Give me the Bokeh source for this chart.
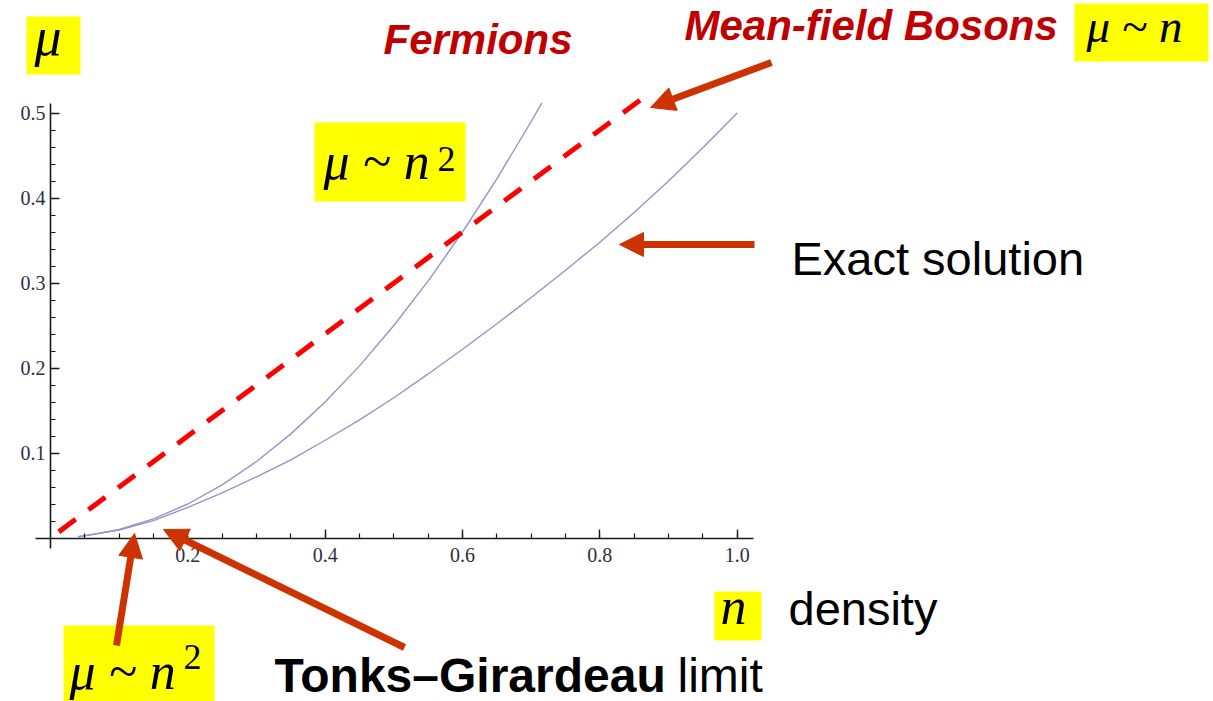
from bokeh.plotting import figure
from bokeh.models import (Range1d, LinearAxis, FixedTicker, PrintfTickFormatter,
                          Label, Arrow, NormalHead, BoxAnnotation)
from bokeh.embed import file_html
from bokeh.resources import INLINE

# ---------------- data ----------------
density_fermions = [0.04, 0.05, 0.10, 0.15, 0.20, 0.25, 0.30, 0.35, 0.40, 0.45,
                    0.50, 0.55, 0.60, 0.65, 0.70, 0.7155]
mu_fermions = [0.0016, 0.0025, 0.0100, 0.0225, 0.0400, 0.0625, 0.0900, 0.1225,
               0.1600, 0.2025, 0.2500, 0.3025, 0.3600, 0.4225, 0.4900, 0.5120]

density_exact = [0.04, 0.10, 0.15, 0.20, 0.25, 0.30, 0.35, 0.40, 0.45, 0.50,
                 0.55, 0.60, 0.65, 0.70, 0.75, 0.80, 0.85, 0.90, 0.95, 1.00]
mu_exact = [0.0015, 0.0093, 0.0205, 0.036, 0.053, 0.072, 0.092, 0.115, 0.139, 0.165,
            0.193, 0.222, 0.252, 0.283, 0.315, 0.348, 0.383, 0.420, 0.459, 0.500]

density_meanfield = [0.012, 0.868]
mu_meanfield = [0.0072, 0.5208]

x_major_ticks = [0.2, 0.4, 0.6, 0.8, 1.0]
x_minor_ticks = [0.05, 0.10, 0.15, 0.20, 0.25, 0.30, 0.35, 0.40, 0.45, 0.50,
                 0.55, 0.60, 0.65, 0.70, 0.75, 0.80, 0.85, 0.90, 0.95, 1.00]
y_major_ticks = [0.1, 0.2, 0.3, 0.4, 0.5]
y_minor_ticks = [0.02, 0.04, 0.06, 0.08, 0.10, 0.12, 0.14, 0.16, 0.18, 0.20,
                 0.22, 0.24, 0.26, 0.28, 0.30, 0.32, 0.34, 0.36, 0.38, 0.40,
                 0.42, 0.44, 0.46, 0.48, 0.50]

# ---------------- layout helpers (pixel -> data) ----------------
W, H = 1213, 701
OX, OY = 50.0, 537.5      # pixel position of the data origin
SX, SY = 686.7, 850.0     # pixels per data unit


def X(px):
    return (px - OX) / SX


def Y(py):
    return (OY - py) / SY


CURVE = "#9494c8"
ARROW = "#cc3300"
DARKRED = "#c00000"
YELLOW = "#ffff00"
SERIF = "Liberation Serif"
SANS = "Liberation Sans"

p = figure(width=W, height=H, x_range=Range1d(X(0), X(W)), y_range=Range1d(Y(H), Y(0)),
           x_axis_type=None, y_axis_type=None, toolbar_location=None,
           output_backend="svg", min_border=0)
p.outline_line_color = None
p.background_fill_color = "white"
p.border_fill_color = "white"

# ---------------- axes crossing at the origin ----------------
xaxis = LinearAxis(fixed_location=0, bounds=(-0.022, 1.024),
                   ticker=FixedTicker(ticks=x_major_ticks, minor_ticks=x_minor_ticks),
                   formatter=PrintfTickFormatter(format="%.1f"))
yaxis = LinearAxis(fixed_location=0, bounds=(-0.012, 0.511),
                   ticker=FixedTicker(ticks=y_major_ticks, minor_ticks=y_minor_ticks),
                   formatter=PrintfTickFormatter(format="%.1f"))
for ax in (xaxis, yaxis):
    ax.axis_line_color = "#1a1a1a"
    ax.axis_line_width = 1.6
    ax.major_tick_line_color = "#1a1a1a"
    ax.minor_tick_line_color = "#1a1a1a"
    ax.major_tick_line_width = 1.4
    ax.minor_tick_line_width = 1.2
    ax.major_tick_in = 9
    ax.major_tick_out = 0
    ax.minor_tick_in = 5
    ax.minor_tick_out = 0
    ax.major_label_text_font = SERIF
    ax.major_label_text_font_size = "20px"
    ax.major_label_text_color = "#2e2e40"
xaxis.major_label_standoff = 10
yaxis.major_label_standoff = 5
p.add_layout(xaxis, "below")
p.add_layout(yaxis, "left")

# ---------------- curves ----------------
p.line(density_fermions, mu_fermions, line_color=CURVE, line_width=1.4)
p.line(density_exact, mu_exact, line_color=CURVE, line_width=1.4)
p.line(density_meanfield, mu_meanfield, line_color="#ff0000", line_width=5,
       line_dash="21 16")

# ---------------- yellow boxes ----------------
boxes = [(26, 80, 16, 74),      # mu (top-left)
         (314, 465, 122, 201),  # mu ~ n^2 (middle)
         (1074, 1208, 3, 61),   # mu ~ n (top-right)
         (714, 761, 591, 640),  # n
         (63, 214, 625, 701)]   # mu ~ n^2 (bottom-left)
for l, r, t, b in boxes:
    p.add_layout(BoxAnnotation(left=X(l), right=X(r), top=Y(t), bottom=Y(b),
                               fill_color=YELLOW, fill_alpha=1.0, line_alpha=0,
                               level="underlay"))


def label(px, py, text, font, size, color="black", style="normal"):
    # py is the wanted baseline; the renderer draws ~0.36 em lower than asked
    p.add_layout(Label(x=X(px), y=Y(py - 0.36 * size), text=text, text_font=font,
                       text_font_size=f"{size}px", text_font_style=style,
                       text_color=color, text_baseline="alphabetic", text_align="left"))


# math labels
label(34, 56, "μ", SERIF, 54, style="italic")
label(323, 180, "μ ~ n", SERIF, 52, style="italic")
label(437, 171, "2", SERIF, 36)
label(1086, 42, "μ ~ n", SERIF, 47, style="italic")
label(720, 625, "n", SERIF, 52, style="italic")
label(69, 690, "μ ~ n", SERIF, 52, style="italic")
label(183, 669, "2", SERIF, 36)

# word labels
label(383, 54, "Fermions", SANS, 42, color=DARKRED, style="bold italic")
label(684, 40, "Mean-field Bosons", SANS, 42, color=DARKRED, style="bold italic")
label(791, 275, "Exact solution", SANS, 47)
label(788, 625, "density", SANS, 47)
label(274, 692, "Tonks–Girardeau", SANS, 48, style="bold")
label(677, 692, "limit", SANS, 48)

# ---------------- arrows ----------------
arrows = [((771, 62), (650, 107)),   # to mean-field line
          ((754, 244), (619, 244)),  # to exact solution
          ((116, 645), (134, 533)),  # mu ~ n^2 at low density
          ((404, 647), (163, 529))]  # Tonks-Girardeau limit
for (x0, y0), (x1, y1) in arrows:
    p.add_layout(Arrow(x_start=X(x0), y_start=Y(y0), x_end=X(x1), y_end=Y(y1),
                       line_color=ARROW, line_width=7,
                       end=NormalHead(size=24, fill_color=ARROW, line_color=ARROW,
                                      line_width=1)))

open("out.html", "w").write(file_html(p, INLINE))
